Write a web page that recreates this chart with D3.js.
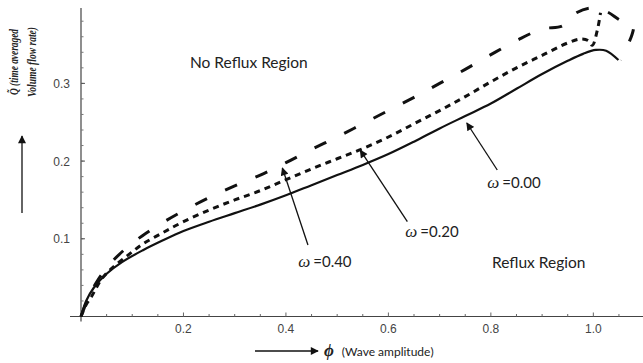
<!DOCTYPE html>
<html>
<head>
<meta charset="utf-8">
<script src="https://cdn.jsdelivr.net/npm/d3@7"></script>
<style>
  body { margin: 0; background: #fff; }
  svg { display: block; }
</style>
</head>
<body>
<div id="chart"></div>
<script>
// curves: [phi, Q]
const omega0 = [[0,0],[0.01,0.020],[0.025,0.037],[0.05,0.055],[0.08,0.070],[0.12,0.085],
  [0.16,0.098],[0.20,0.110],[0.25,0.122],[0.30,0.133],[0.35,0.144],[0.40,0.156],
  [0.45,0.169],[0.50,0.182],[0.55,0.195],[0.60,0.209],[0.65,0.225],[0.70,0.242],
  [0.75,0.258],[0.80,0.274],[0.85,0.293],[0.90,0.312],[0.95,0.329],[0.98,0.338],
  [1.005,0.343],[1.025,0.342],[1.049,0.330]];
const omega20 = [[0,0],[0.01,0.015],[0.02,0.025],[0.04,0.048],[0.06,0.062],[0.09,0.078],
  [0.12,0.093],[0.16,0.108],[0.20,0.122],[0.25,0.137],[0.30,0.150],[0.35,0.162],
  [0.40,0.176],[0.45,0.190],[0.50,0.203],[0.55,0.216],[0.60,0.231],[0.65,0.248],
  [0.70,0.265],[0.75,0.283],[0.80,0.302],[0.85,0.320],[0.90,0.336],[0.95,0.352],
  [0.975,0.357],[0.99,0.355],[0.998,0.349],[1.008,0.369],[1.014,0.391]];
const omega40 = [[0,0],[0.015,0.025],[0.033,0.047],[0.06,0.070],[0.09,0.089],[0.12,0.104],
  [0.16,0.121],[0.20,0.136],[0.25,0.153],[0.30,0.168],[0.35,0.182],[0.40,0.198],
  [0.45,0.215],[0.50,0.231],[0.55,0.248],[0.60,0.265],[0.65,0.282],[0.70,0.300],
  [0.75,0.318],[0.80,0.337],[0.85,0.355],[0.90,0.370],[0.94,0.374],[0.96,0.388],
  [0.994,0.397],[1.027,0.392],[1.053,0.381],[1.078,0.375],[1.053,0.330]];

const xTicks = [0.2, 0.4, 0.6, 0.8, 1.0];
const yTicks = [0.1, 0.2, 0.3];

const width = 643, height = 363;
const svg = d3.select("#chart").append("svg")
  .attr("width", width).attr("height", height);

const x = d3.scaleLinear().domain([0, 1.095]).range([81, 642]);
const y = d3.scaleLinear().domain([0, 0.397]).range([316.5, 8]);

const defs = svg.append("defs");
defs.append("marker")
  .attr("id", "head")
  .attr("viewBox", "0 0 10 10")
  .attr("refX", 9).attr("refY", 5)
  .attr("markerWidth", 9).attr("markerHeight", 8)
  .attr("markerUnits", "userSpaceOnUse")
  .attr("orient", "auto")
  .append("path").attr("d", "M0,0L10,5L0,10Z").attr("fill", "#111");

// axes (Mathematica style: ticks pointing into the plot)
const axisColor = "#444";
svg.append("line").attr("x1", 70).attr("x2", width).attr("y1", y(0)).attr("y2", y(0))
  .attr("stroke", axisColor).attr("stroke-width", 1.2);
svg.append("line").attr("x1", x(0)).attr("x2", x(0)).attr("y1", y(0) + 5).attr("y2", y.range()[1])
  .attr("stroke", axisColor).attr("stroke-width", 1.2);

const xMinor = d3.range(0.05, 1.09, 0.05);
svg.append("g").selectAll("line").data(xMinor).join("line")
  .attr("x1", d => x(d)).attr("x2", d => x(d))
  .attr("y1", y(0)).attr("y2", d => y(0) - (xTicks.some(t => Math.abs(t - d) < 1e-6) ? 4 : 2.5))
  .attr("stroke", "#666").attr("stroke-width", 1);
const yMinor = d3.range(0.02, 0.397, 0.02);
svg.append("g").selectAll("line").data(yMinor).join("line")
  .attr("y1", d => y(d)).attr("y2", d => y(d))
  .attr("x1", x(0)).attr("x2", d => x(0) + 2.5)
  .attr("stroke", "#777").attr("stroke-width", 1);
svg.append("g").selectAll("line").data(yTicks).join("line")
  .attr("y1", d => y(d)).attr("y2", d => y(d))
  .attr("x1", x(0)).attr("x2", x(0) + 4)
  .attr("stroke", "#555").attr("stroke-width", 1);

const tickFont = "'Liberation Sans', Arial, sans-serif";
svg.append("g").selectAll("text").data(xTicks).join("text")
  .attr("x", d => x(d)).attr("y", y(0) + 16)
  .attr("text-anchor", "middle")
  .attr("font-family", tickFont).attr("font-size", 12).attr("fill", "#444")
  .text(d => d.toFixed(1));
svg.append("g").selectAll("text").data(yTicks).join("text")
  .attr("x", x(0) - 11).attr("y", d => y(d) + 4.5)
  .attr("text-anchor", "end")
  .attr("font-family", tickFont).attr("font-size", 12).attr("fill", "#444")
  .text(d => d.toFixed(1));

// curves
const line = d3.line().x(d => x(d[0])).y(d => y(d[1])).curve(d3.curveCatmullRom.alpha(0.5));
svg.append("path").datum(omega0).attr("d", line)
  .attr("fill", "none").attr("stroke", "#111").attr("stroke-width", 2.2)
  .attr("stroke-linejoin", "round");
svg.append("path").datum(omega20).attr("d", line)
  .attr("fill", "none").attr("stroke", "#111").attr("stroke-width", 3)
  .attr("stroke-dasharray", "6,5");
svg.append("path").datum(omega40).attr("d", line)
  .attr("fill", "none").attr("stroke", "#111").attr("stroke-width", 3)
  .attr("stroke-dasharray", "13,20");

// annotations
const labelFont = "Lato, 'Open Sans', sans-serif";
const arrows = [
  { from: [0.8125, 0.1885], to: [0.753, 0.249], at: [0.793, 0.165], text: "=0.00" },
  { from: [0.637, 0.122], to: [0.545, 0.214], at: [0.633, 0.102], text: "=0.20" },
  { from: [0.443, 0.092], to: [0.393, 0.191], at: [0.424, 0.064], text: "=0.40" }
];
svg.append("g").selectAll("line").data(arrows).join("line")
  .attr("x1", d => x(d.from[0])).attr("y1", d => y(d.from[1]))
  .attr("x2", d => x(d.to[0])).attr("y2", d => y(d.to[1]))
  .attr("stroke", "#111").attr("stroke-width", 1.3)
  .attr("marker-end", "url(#head)");
const lbl = svg.append("g").selectAll("text").data(arrows).join("text")
  .attr("x", d => x(d.at[0])).attr("y", d => y(d.at[1]))
  .attr("font-family", labelFont).attr("font-size", 15).attr("fill", "#222");
lbl.append("tspan")
  .attr("font-family", "'Liberation Serif', 'Times New Roman', serif")
  .attr("font-style", "italic").attr("font-size", 17)
  .text("\u03C9");
lbl.append("tspan").attr("dx", 3).text(d => d.text);

svg.append("text").attr("x", 190).attr("y", 68)
  .attr("font-family", labelFont).attr("font-size", 15.5).attr("fill", "#222")
  .text("No Reflux Region");
svg.append("text").attr("x", 492).attr("y", 268)
  .attr("font-family", labelFont).attr("font-size", 15.5).attr("fill", "#222")
  .text("Reflux Region");

// x-axis title
svg.append("line").attr("x1", 255).attr("x2", 318).attr("y1", 351).attr("y2", 351)
  .attr("stroke", "#111").attr("stroke-width", 1.3).attr("marker-end", "url(#head)");
const xt = svg.append("text").attr("x", 324).attr("y", 356)
  .attr("font-family", labelFont).attr("font-size", 12).attr("fill", "#222");
xt.append("tspan")
  .attr("font-family", "'Liberation Serif', 'Times New Roman', serif")
  .attr("font-style", "italic").attr("font-weight", "bold").attr("font-size", 17)
  .text("\u03D5");
xt.append("tspan").attr("dx", 8).text("(Wave amplitude)");

// y-axis title
svg.append("line").attr("x1", 22).attr("x2", 22).attr("y1", 213).attr("y2", 136)
  .attr("stroke", "#111").attr("stroke-width", 1.3).attr("marker-end", "url(#head)");
const yt = svg.append("g").attr("font-family", "'Liberation Serif', 'Times New Roman', serif")
  .attr("font-style", "italic").attr("font-weight", "bold").attr("font-size", 12.5).attr("fill", "#222");
yt.append("text").attr("transform", "translate(18,95) rotate(-90)")
  .attr("textLength", 66).attr("lengthAdjust", "spacingAndGlyphs")
  .text("Q\u0303  (time averaged");
yt.append("text").attr("transform", "translate(36,97) rotate(-90)")
  .attr("textLength", 70).attr("lengthAdjust", "spacingAndGlyphs")
  .text("Volume flow rate)");
</script>
</body>
</html>
